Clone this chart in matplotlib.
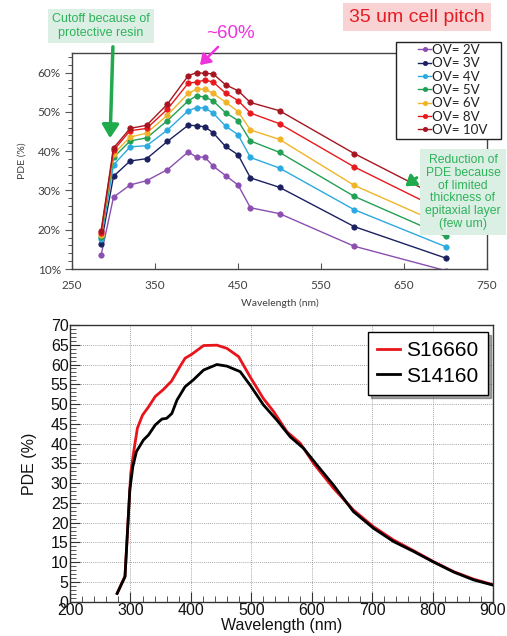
import matplotlib
matplotlib.use("Agg")
import matplotlib.pyplot as plt
from matplotlib.patches import FancyArrowPatch, Rectangle
from matplotlib.ticker import MultipleLocator, FixedLocator, FuncFormatter

# ---------------- Data: top chart (35 um cell pitch) ----------------
wl_top = [285, 300, 320, 340, 365, 390, 400, 410, 420, 435, 450, 465, 500, 590, 700]
top_xticks = [250, 350, 450, 550, 650, 750]
ov_labels = ["OV= 2V", "OV= 3V", "OV= 4V", "OV= 5V", "OV= 6V", "OV= 8V", "OV= 10V"]
ov_colors = ["#8a4fb0", "#1b2160", "#2ba9e1", "#22a053", "#f0b429", "#e8191c", "#a51620"]
pde_2v = [13.5, 28.3, 31.4, 32.5, 35.3, 39.8, 38.5, 38.5, 36.2, 33.8, 31.4, 25.6, 24.1, 15.8, 9.6]
pde_3v = [16.3, 33.6, 37.5, 38.1, 42.5, 46.6, 46.5, 46.2, 44.7, 41.2, 39.1, 33.2, 30.8, 20.8, 12.8]
pde_4v = [17.6, 36.5, 41.1, 41.4, 45.4, 50.3, 51.1, 51.0, 49.7, 46.4, 44.2, 38.4, 35.7, 25.1, 15.7]
pde_5v = [18.1, 38.4, 42.6, 43.4, 47.8, 52.8, 54.1, 53.8, 52.8, 49.8, 47.8, 42.6, 39.7, 28.5, 18.3]
pde_6v = [18.6, 39.3, 43.6, 44.6, 49.2, 54.7, 55.8, 55.8, 54.7, 52.5, 50.1, 45.4, 43.0, 31.3, 21.0]
pde_8v = [19.2, 40.2, 45.2, 45.8, 50.7, 57.3, 57.6, 58.1, 57.6, 54.8, 52.9, 49.7, 47.0, 36.0, 24.5]
pde_10v = [19.6, 40.8, 45.8, 46.6, 52.0, 59.2, 60.0, 59.8, 59.7, 56.9, 55.4, 52.4, 50.3, 39.4, 27.5]
top_series = [pde_2v, pde_3v, pde_4v, pde_5v, pde_6v, pde_8v, pde_10v]

# ---------------- Data: bottom chart ----------------
wl_s16660 = [278, 291, 300.5, 305, 311.5, 320, 330, 341, 354.6, 368, 382, 390.5, 401.5, 421,
             443, 459.5, 479, 498, 520, 537, 559, 581, 603, 636, 669, 702, 735.6, 768.7,
             802, 835, 868, 900]
pde_s16660 = [2.1, 6.5, 32.5, 37.5, 43.9, 47.2, 49.3, 51.9, 53.7, 55.8, 59.5, 61.6, 62.6, 64.8,
              64.9, 64.1, 62.0, 56.9, 51.4, 48.1, 43.0, 40.1, 35.0, 28.7, 23.2, 19.0, 15.6, 12.9,
              10.1, 7.6, 5.7, 4.3]
wl_s14160 = [278, 291, 299, 304, 310, 321.5, 330, 341, 352, 360, 368.5, 377, 390.5, 404, 421,
             443, 459.5, 481.6, 498, 520, 542, 564.5, 586.5, 608.6, 636, 669, 702, 735.6,
             768.7, 802, 835, 868, 900]
pde_s14160 = [2.1, 6.3, 28.3, 34.2, 38.0, 40.9, 42.2, 44.7, 46.2, 46.4, 47.6, 51.0, 54.4, 56.1,
              58.6, 60.0, 59.6, 58.2, 54.8, 49.8, 46.0, 41.7, 38.8, 34.6, 29.5, 22.8, 18.6, 15.2,
              12.7, 10.0, 7.5, 5.5, 4.2]

W, H = 507, 636
fig = plt.figure(figsize=(W / 100, H / 100), dpi=100)

def fx(px):
    return px / W

def fy(py):
    return 1 - py / H

# ---------------- Top chart ----------------
top_font = "Lato"
txtgrey = "#404040"
ax1 = fig.add_axes([fx(72), fy(269), fx(487) - fx(72), fy(53) - fy(269)])
for vals, lab, col in zip(top_series, ov_labels, ov_colors):
    ax1.plot(wl_top, vals, color=col, lw=1.0, marker="o", ms=3.9, label=lab,
             markeredgewidth=0.5, markeredgecolor=col)
ax1.set_xlim(250, 750)
ax1.set_ylim(10, 65)
ax1.xaxis.set_major_locator(FixedLocator(top_xticks))
ax1.yaxis.set_major_locator(MultipleLocator(10))
ax1.yaxis.set_minor_locator(MultipleLocator(2))
ax1.yaxis.set_major_formatter(FuncFormatter(lambda v, p: f"{int(v)}%"))
ax1.tick_params(axis="x", direction="in", length=4, width=0.8, colors="#555555",
                labelcolor=txtgrey, labelsize=8.5, pad=8)
ax1.tick_params(axis="y", which="major", direction="out", length=5, width=0.8,
                colors="#555555", labelcolor=txtgrey, labelsize=8.5, pad=3)
ax1.tick_params(axis="y", which="minor", direction="out", length=3, width=0.7, colors="#555555")
for lbl in ax1.get_xticklabels() + ax1.get_yticklabels():
    lbl.set_family(top_font)
for sp in ax1.spines.values():
    sp.set_color("#444444")
    sp.set_linewidth(1.0)
ax1.set_xlabel("Wavelength (nm)", fontsize=7.5, color=txtgrey, family=top_font, labelpad=5)
ax1.set_ylabel("PDE (%)", fontsize=7.5, color=txtgrey, family=top_font, labelpad=8)

# legend box drawn separately (wide padding as in reference)
fig.patches.append(Rectangle((fx(396), fy(139)), fx(501) - fx(396), fy(42) - fy(139),
                             transform=fig.transFigure, fc="white", ec="#222222", lw=1.0,
                             zorder=5))
leg1 = fig.legend(loc="upper left", bbox_to_anchor=(fx(414), fy(40)), frameon=False,
                  prop={"family": top_font, "size": 9.6}, handlelength=1.0,
                  handletextpad=0.05, labelspacing=0.1, borderpad=0.3, markerscale=0.8,
                  borderaxespad=0)
leg1.set_zorder(6)
for t in leg1.get_texts():
    t.set_color("#222222")

green_txt = "#2eb35a"
box_green = "#dcefe4"
fig.text(fx(101), fy(26), "Cutoff because of\nprotective resin", ha="center", va="center",
         fontsize=9, color=green_txt, family="Liberation Sans", linespacing=1.15,
         bbox=dict(boxstyle="square,pad=0.35", fc=box_green, ec="none"))
fig.text(fx(417), fy(17), "35 um cell pitch", ha="center", va="center", fontsize=14,
         color="#e41c24", family="Liberation Sans",
         bbox=dict(boxstyle="square,pad=0.3", fc="#f9d3d3", ec="none"))
fig.text(fx(230), fy(33), "~60%", ha="center", va="center", fontsize=13.5,
         color="#ee33dd", family="Liberation Sans")
fig.text(fx(463), fy(192), "Reduction of\nPDE because\nof limited\nthickness of\nepitaxial layer\n(few um)",
         ha="center", va="center", fontsize=8.8, color=green_txt, family="Liberation Sans",
         linespacing=1.1, zorder=10,
         bbox=dict(boxstyle="square,pad=0.4", fc=box_green, ec="none"))

fig.patches.append(FancyArrowPatch(
    (fx(113), fy(44)), (fx(110), fy(141)), transform=fig.transFigure,
    arrowstyle="-|>,head_length=8,head_width=5", color="#1faa4c", lw=2.5, mutation_scale=1))
fig.patches.append(FancyArrowPatch(
    (fx(220), fy(45)), (fx(198), fy(67)), transform=fig.transFigure,
    arrowstyle="-|>,head_length=6,head_width=4", color="#ee33dd", lw=1.8, mutation_scale=1))
fig.patches.append(FancyArrowPatch(
    (fx(419), fy(176)), (fx(403), fy(188)), transform=fig.transFigure,
    arrowstyle="-|>,head_length=6,head_width=4", color="#1faa4c", lw=2.2, mutation_scale=1,
    zorder=11))

# ---------------- Bottom chart ----------------
bf = "Liberation Sans"
ax2 = fig.add_axes([fx(70), fy(601.7), fx(493) - fx(70), fy(325) - fy(601.7)])
ax2.plot(wl_s16660, pde_s16660, color="#e8141c", lw=2.0, label="S16660", zorder=3)
ax2.plot(wl_s14160, pde_s14160, color="#000000", lw=2.0, label="S14160", zorder=4)
ax2.set_xlim(200, 900)
ax2.set_ylim(0, 70)
ax2.xaxis.set_major_locator(MultipleLocator(100))
ax2.xaxis.set_minor_locator(MultipleLocator(20))
ax2.yaxis.set_major_locator(MultipleLocator(5))
ax2.yaxis.set_minor_locator(MultipleLocator(1))
ax2.grid(True, which="major", color="#888888", lw=0.6, ls=(0, (1, 1.5)))
ax2.tick_params(which="major", direction="in", length=7, width=0.8, colors="#333333",
                labelcolor="#111111", labelsize=11.5)
ax2.tick_params(which="minor", direction="in", length=4, width=0.7, colors="#555555")
ax2.tick_params(axis="x", pad=1)
ax2.tick_params(axis="y", pad=1)
for lbl in ax2.get_xticklabels() + ax2.get_yticklabels():
    lbl.set_family(bf)
for sp in ax2.spines.values():
    sp.set_color("#333333")
    sp.set_linewidth(1.0)
ax2.set_xlabel("Wavelength (nm)", fontsize=11.5, family=bf, labelpad=0, color="#111111")
ax2.set_ylabel("PDE (%)", fontsize=11.5, family=bf, labelpad=10, color="#111111")
leg2 = ax2.legend(loc="upper right", bbox_to_anchor=(0.988, 0.975), frameon=True,
                  fancybox=False, shadow=True, edgecolor="#000000", framealpha=1,
                  prop={"family": bf, "size": 15}, handlelength=1.1, handletextpad=0.3,
                  labelspacing=0.3, borderpad=0.45, borderaxespad=0)
leg2.get_frame().set_linewidth(1.0)

fig.savefig("out.png", dpi=100)
